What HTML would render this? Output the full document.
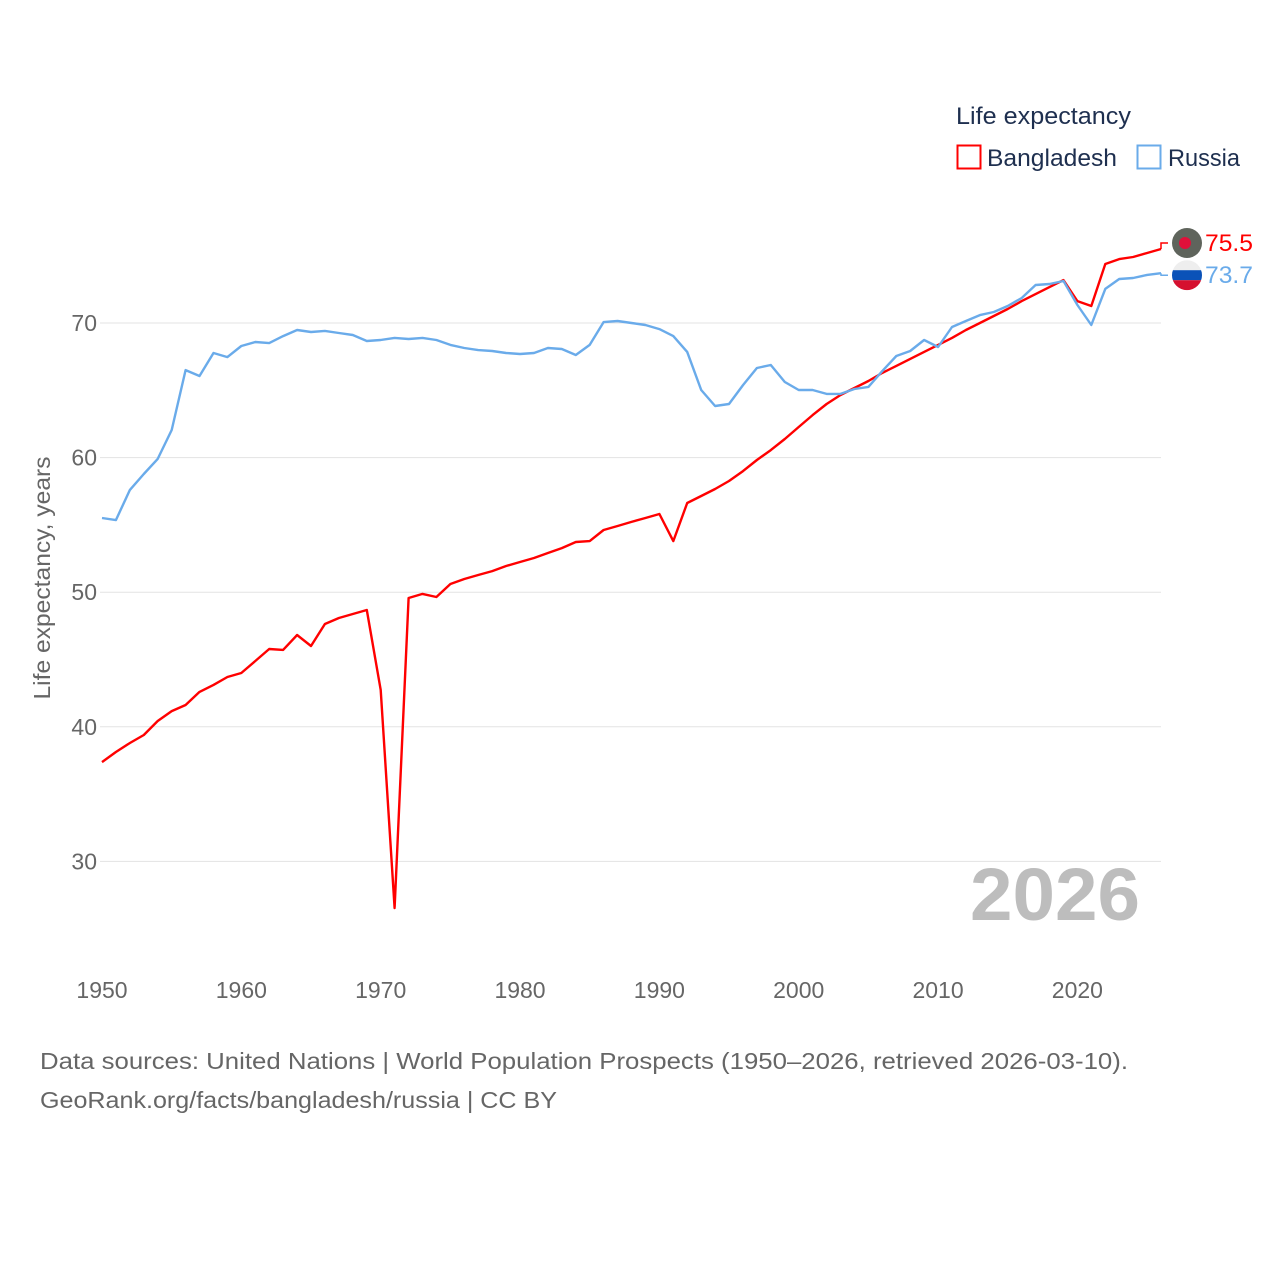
<!DOCTYPE html>
<html><head><meta charset="utf-8"><style>
body{margin:0;background:#fff;}
svg text{font-family:"Liberation Sans",sans-serif;}
</style></head><body>
<svg id="chart" width="1280" height="1280" viewBox="0 0 1280 1280" xmlns="http://www.w3.org/2000/svg">
<rect width="1280" height="1280" fill="#fff"/>
<g id="grid"></g>
<g id="yticks"></g>
<g id="xticks"></g>
<text transform="translate(50,578) rotate(-90)" text-anchor="middle" font-size="23" fill="#666" textLength="243" lengthAdjust="spacingAndGlyphs">Life expectancy, years</text>
<text x="1140" y="920" text-anchor="end" font-size="74" font-weight="bold" fill="#bdbdbd" textLength="170" lengthAdjust="spacingAndGlyphs">2026</text>
<g id="series"></g>
<text x="956" y="124" font-size="24" fill="#1e2f4f" textLength="175" lengthAdjust="spacingAndGlyphs">Life expectancy</text>
<g>
<rect x="957.5" y="145.5" width="23" height="23" fill="none" stroke="#f00" stroke-width="2"/>
<text x="987" y="166" font-size="24" fill="#1e2f4f" textLength="130" lengthAdjust="spacingAndGlyphs">Bangladesh</text></g>
<g>
<rect x="1137.5" y="145.5" width="23" height="23" fill="none" stroke="#6aabea" stroke-width="2"/>
<text x="1168" y="166" font-size="24" fill="#1e2f4f" textLength="72" lengthAdjust="spacingAndGlyphs">Russia</text></g>
<text x="40" y="1069" font-size="23" fill="#666" textLength="1088" lengthAdjust="spacingAndGlyphs">Data sources: United Nations | World Population Prospects (1950–2026, retrieved 2026-03-10).</text>
<text x="40" y="1108" font-size="23" fill="#666" textLength="517" lengthAdjust="spacingAndGlyphs">GeoRank.org/facts/bangladesh/russia | CC BY</text>
</svg>
<script>
const years=[];for(let y=1950;y<=2026;y++)years.push(y);
const bangladesh=[37.38,38.13,38.8,39.39,40.43,41.17,41.62,42.59,43.11,43.7,44,44.89,45.78,45.71,46.82,46,47.64,48.08,48.38,48.68,42.74,26.54,49.57,49.87,49.64,50.61,50.98,51.28,51.57,51.95,52.24,52.54,52.91,53.28,53.73,53.8,54.62,54.92,55.22,55.51,55.81,53.8,56.63,57.15,57.67,58.26,59,59.82,60.56,61.38,62.27,63.16,63.98,64.65,65.17,65.69,66.29,66.81,67.33,67.85,68.37,68.89,69.48,70,70.52,71.04,71.63,72.15,72.67,73.19,71.63,71.26,74.38,74.75,74.9,75.2,75.5];
const russia=[55.51,55.36,57.6,58.78,59.9,62.05,66.5,66.06,67.77,67.47,68.29,68.59,68.51,69.03,69.48,69.33,69.41,69.26,69.11,68.66,68.74,68.89,68.81,68.89,68.74,68.37,68.14,67.99,67.92,67.77,67.7,67.77,68.14,68.07,67.62,68.37,70.07,70.15,70,69.85,69.55,69.03,67.85,65.02,63.83,63.98,65.39,66.66,66.88,65.62,65.02,65.02,64.73,64.73,65.1,65.25,66.43,67.55,67.92,68.74,68.22,69.7,70.15,70.59,70.82,71.26,71.86,72.82,72.9,73.12,71.34,69.85,72.53,73.27,73.34,73.57,73.7];
const yTicks=[30,40,50,60,70];
const xTicks=[1950,1960,1970,1980,1990,2000,2010,2020];
const NS='http://www.w3.org/2000/svg';
const X=y=>102+(y-1950)*(1161-102)/76;
const Y=v=>323-(v-70)*13.46;
function mk(t,a,p){const e=document.createElementNS(NS,t);for(const k in a)e.setAttribute(k,a[k]);p.appendChild(e);return e;}
const grid=document.getElementById('grid'),yt=document.getElementById('yticks'),xt=document.getElementById('xticks'),ser=document.getElementById('series');
yTicks.forEach(v=>{
 const l=mk('line',{x1:100,x2:1161,y1:Y(v),y2:Y(v),stroke:'#e3e3e3','stroke-width':1},grid);
 
 
 const t=mk('text',{x:97,y:Y(v)+8,'text-anchor':'end','font-size':23,fill:'#666'},yt);t.textContent=v;
 
 
});
xTicks.forEach(v=>{
 const t=mk('text',{x:X(v),y:998,'text-anchor':'middle','font-size':23,fill:'#666'},xt);t.textContent=v;
 
 
});
function draw(vals,color,name,label,off,flag){
 const pts=vals.map((v,i)=>X(years[i]).toFixed(1)+','+Y(v).toFixed(1)).join(' ');
 const p=mk('polyline',{points:pts,fill:'none',stroke:color,'stroke-width':2.4,'stroke-linejoin':'round'},ser);
 
 
 const last=vals[vals.length-1],ly=Y(last),fy=ly+off;
 mk('polyline',{points:`${X(2026)},${ly} ${X(2026)},${fy} ${X(2026)+7},${fy}`,fill:'none',stroke:color,'stroke-width':1.5},ser);
 const g=mk('g',{},ser);
 
 
 flag(g,1187,fy);
 const t=mk('text',{x:1205,y:fy+8,'font-size':24,fill:color,textLength:48,lengthAdjust:'spacingAndGlyphs'},ser);t.textContent=label;
 
 
}
draw(bangladesh,'#ff0000','bangladesh','75.5',-6,(g,cx,cy)=>{
 mk('circle',{cx,cy,r:15,fill:'#5f645c'},g);
 mk('circle',{cx:cx-2,cy,r:6,fill:'#e0103a'},g);
});
draw(russia,'#6aabea','russia','73.7',2,(g,cx,cy)=>{
 const d=mk('defs',{},g);const cp=mk('clipPath',{id:'rc'},d);mk('circle',{cx,cy,r:15},cp);
 const gg=mk('g',{'clip-path':'url(#rc)'},g);
 mk('rect',{x:cx-15,y:cy-15,width:30,height:10,fill:'#eeeeee'},gg);
 mk('rect',{x:cx-15,y:cy-5,width:30,height:10,fill:'#0a52b8'},gg);
 mk('rect',{x:cx-15,y:cy+5,width:30,height:10,fill:'#d5102f'},gg);
});
</script>
</body></html>
